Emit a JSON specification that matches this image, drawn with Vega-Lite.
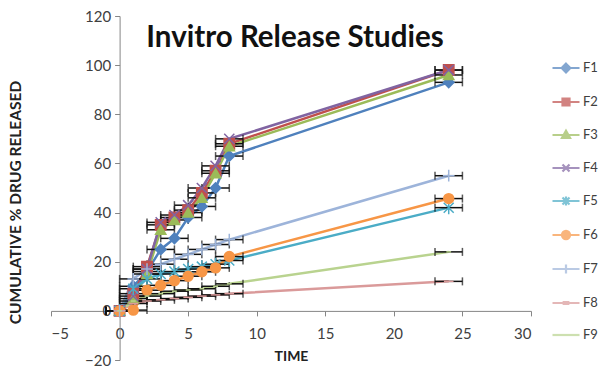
{
  "$schema": "https://vega.github.io/schema/vega-lite/v6.json",
  "width": 480,
  "height": 344,
  "autosize": "none",
  "padding": {"left": 51, "top": 16, "right": 68, "bottom": 9},
  "background": "white",
  "config": {"view": {"stroke": null}, "font": "Lato"},
  "title": {"text": "Invitro Release Studies", "fontSize": 29.5, "fontWeight": "bold", "font": "Lato", "color": "#111111", "anchor": "middle", "offset": -44, "dx": 4},
  "data": {"values": [
    {"s":"F1","t":0,"v":0,"e":1},{"s":"F1","t":1,"v":10,"e":1},{"s":"F1","t":2,"v":16,"e":1},{"s":"F1","t":3,"v":25,"e":1},{"s":"F1","t":4,"v":29.5,"e":1},{"s":"F1","t":5,"v":38,"e":1},{"s":"F1","t":6,"v":42.5,"e":1},{"s":"F1","t":7,"v":50,"e":1},{"s":"F1","t":8,"v":63,"e":1},{"s":"F1","t":24,"v":93,"e":1},
    {"s":"F2","t":0,"v":0,"e":1},{"s":"F2","t":1,"v":7,"e":1},{"s":"F2","t":2,"v":18,"e":1},{"s":"F2","t":3,"v":35,"e":1},{"s":"F2","t":4,"v":38,"e":1},{"s":"F2","t":5,"v":41,"e":1},{"s":"F2","t":6,"v":48,"e":1},{"s":"F2","t":7,"v":57,"e":1},{"s":"F2","t":8,"v":68,"e":1},{"s":"F2","t":24,"v":98,"e":1},
    {"s":"F3","t":0,"v":0,"e":1},{"s":"F3","t":1,"v":5,"e":1},{"s":"F3","t":2,"v":15,"e":1},{"s":"F3","t":3,"v":33,"e":1},{"s":"F3","t":4,"v":37,"e":1},{"s":"F3","t":5,"v":40,"e":1},{"s":"F3","t":6,"v":46,"e":1},{"s":"F3","t":7,"v":56,"e":1},{"s":"F3","t":8,"v":67,"e":1},{"s":"F3","t":24,"v":96,"e":1},
    {"s":"F4","t":0,"v":0,"e":1},{"s":"F4","t":1,"v":6,"e":1},{"s":"F4","t":2,"v":17,"e":1},{"s":"F4","t":3,"v":36,"e":1},{"s":"F4","t":4,"v":39,"e":1},{"s":"F4","t":5,"v":43,"e":1},{"s":"F4","t":6,"v":50,"e":1},{"s":"F4","t":7,"v":59,"e":1},{"s":"F4","t":8,"v":70,"e":1},{"s":"F4","t":24,"v":98,"e":1},
    {"s":"F5","t":0,"v":0,"e":1},{"s":"F5","t":1,"v":9,"e":1},{"s":"F5","t":2,"v":13,"e":1},{"s":"F5","t":3,"v":15,"e":1},{"s":"F5","t":4,"v":16,"e":1},{"s":"F5","t":5,"v":17,"e":1},{"s":"F5","t":6,"v":18,"e":1},{"s":"F5","t":7,"v":19,"e":1},{"s":"F5","t":8,"v":20.5,"e":1},{"s":"F5","t":24,"v":42,"e":1},
    {"s":"F6","t":0,"v":0,"e":1},{"s":"F6","t":1,"v":0.3,"e":1},{"s":"F6","t":2,"v":8.4,"e":1},{"s":"F6","t":3,"v":10.4,"e":1},{"s":"F6","t":4,"v":12.3,"e":1},{"s":"F6","t":5,"v":14.1,"e":1},{"s":"F6","t":6,"v":15.9,"e":1},{"s":"F6","t":7,"v":17.5,"e":1},{"s":"F6","t":8,"v":22.1,"e":1},{"s":"F6","t":24,"v":45.7,"e":1},
    {"s":"F7","t":0,"v":0,"e":1},{"s":"F7","t":1,"v":13,"e":1},{"s":"F7","t":2,"v":17,"e":1},{"s":"F7","t":3,"v":19,"e":1},{"s":"F7","t":4,"v":21,"e":1},{"s":"F7","t":5,"v":23,"e":1},{"s":"F7","t":6,"v":25,"e":1},{"s":"F7","t":7,"v":27,"e":1},{"s":"F7","t":8,"v":29,"e":1},{"s":"F7","t":24,"v":55,"e":1},
    {"s":"F8","t":0,"v":0,"e":1},{"s":"F8","t":1,"v":3,"e":1},{"s":"F8","t":2,"v":4,"e":1},{"s":"F8","t":3,"v":4.5,"e":1},{"s":"F8","t":4,"v":5,"e":1},{"s":"F8","t":5,"v":5.5,"e":1},{"s":"F8","t":6,"v":6,"e":1},{"s":"F8","t":7,"v":6.5,"e":1},{"s":"F8","t":8,"v":7,"e":1},{"s":"F8","t":24,"v":12,"e":1},
    {"s":"F9","t":0,"v":0,"e":1},{"s":"F9","t":1,"v":4,"e":1},{"s":"F9","t":2,"v":6,"e":1},{"s":"F9","t":3,"v":7,"e":1},{"s":"F9","t":4,"v":8,"e":1},{"s":"F9","t":5,"v":8.5,"e":1},{"s":"F9","t":6,"v":9,"e":1},{"s":"F9","t":7,"v":10,"e":1},{"s":"F9","t":8,"v":11,"e":1},{"s":"F9","t":24,"v":24,"e":1}
  ]},
  "encoding": {
    "x": {"field": "t", "type": "quantitative",
      "scale": {"domain": [-5, 30], "nice": false, "zero": false},
      "axis": {"title": "TIME", "offset": -49.1, "values": [-5,0,5,10,15,20,25,30], "grid": false,
        "domainColor": "#868686", "tickColor": "#868686", "tickSize": 5, "labelFontSize": 15, "labelColor": "#404040", "labelFont": "Lato",
        "titleFont": "Lato", "titleFontSize": 14, "titleFontWeight": "bold", "titleColor": "#222222", "titlePadding": 8, "labelPadding": 11}},
    "y": {"field": "v", "type": "quantitative",
      "scale": {"domain": [-20, 120], "nice": false, "zero": false},
      "axis": {"title": "CUMULATIVE % DRUG RELEASED", "offset": -68.6, "values": [-20,0,20,40,60,80,100,120], "grid": false,
        "domainColor": "#868686", "tickColor": "#868686", "tickSize": 5, "labelFontSize": 15, "labelColor": "#404040", "labelFont": "Lato",
        "titleFont": "Lato", "titleFontSize": 15.5, "titleFontWeight": "bold", "titleColor": "#222222", "titleX": -96, "titleY": 186, "labelPadding": 4}},
    "color": {"field": "s", "type": "nominal", "legend": null,
      "scale": {"domain": ["F1","F2","F3","F4","F5","F6","F7","F8","F9"],
        "range": ["#4F81BD","#C0504D","#9BBB59","#8064A2","#4BACC6","#F79646","#9DB4DA","#DA9A9A","#B9D38F"]}}
  },
  "layer": [
    {"mark": {"type": "line", "strokeWidth": 2.5},
     "encoding": {"detail": {"field": "s"}}},
    {"mark": {"type": "errorbar", "ticks": {"size": 8}, "color": "#111111", "thickness": 1.5},
     "encoding": {"xError": {"field": "e"}, "color": {"value": "#111111"}}},
    {"mark": {"type": "point", "filled": true, "strokeWidth": 1.5, "opacity": 1, "fillOpacity": 1, "strokeOpacity": 1},
     "encoding": {
       "stroke": {"field": "s", "type": "nominal", "legend": null,
         "scale": {"domain": ["F1","F2","F3","F4","F5","F6","F7","F8","F9"],
           "range": ["#4F81BD","#C0504D","#9BBB59","#8064A2","#4BACC6","#F79646","#9DB4DA","#DA9A9A","#B9D38F"]}},
       "shape": {"field": "s", "type": "nominal", "legend": null,
         "scale": {"domain": ["F1","F2","F3","F4","F5","F6","F7","F8","F9"],
           "range": ["diamond","square","triangle-up","M-1,-1L1,1M-1,1L1,-1","M-1,-1L1,1M-1,1L1,-1M0,-1.3V1.3","circle","M0,-1.2V1.2M-1.2,0H1.2","M-1,0H1","M-0.5,0H0.5"]}},
       "size": {"field": "s", "type": "nominal", "legend": null,
         "scale": {"domain": ["F1","F2","F3","F4","F5","F6","F7","F8","F9"],
           "range": [110,90,90,50,60,160,60,60,40]}}
     }},
    {"transform": [{"filter": "datum.t > 1000"}],
     "mark": {"type": "point", "filled": false, "strokeWidth": 2.2},
     "encoding": {
       "color": {"field": "s", "type": "nominal",
         "scale": {"domain": ["F1","F2","F3","F4","F5","F6","F7","F8","F9"],
           "range": ["#4F81BD","#C0504D","#9BBB59","#8064A2","#4BACC6","#F79646","#9DB4DA","#DA9A9A","#B9D38F"]},
         "legend": {"title": null, "orient": "none", "legendX": 500, "legendY": 37, "symbolSize": 729, "rowPadding": 10, "symbolStrokeWidth": 2.2,
           "labelFontSize": 13, "labelColor": "#404040", "labelFont": "Lato", "labelOffset": 2}},
       "shape": {"field": "s", "type": "nominal",
         "scale": {"domain": ["F1","F2","F3","F4","F5","F6","F7","F8","F9"],
           "range": [
             "M-1,0H1M0,-0.32L0.32,0L0,0.32L-0.32,0ZM0,-0.2L0.2,0L0,0.2L-0.2,0ZM0,-0.08L0.08,0L0,0.08L-0.08,0Z",
             "M-1,0H1M-0.26,-0.26H0.26V0.26H-0.26ZM-0.14,-0.14H0.14V0.14H-0.14ZM-0.04,-0.04H0.04V0.04H-0.04Z",
             "M-1,0H1M0,-0.32L0.3,0.22H-0.3ZM0,-0.14L0.15,0.13H-0.15ZM0,0.02L0.04,0.08H-0.04Z",
             "M-1,0H1M-0.26,-0.26L0.26,0.26M-0.26,0.26L0.26,-0.26",
             "M-1,0H1M-0.26,-0.26L0.26,0.26M-0.26,0.26L0.26,-0.26M0,-0.34V0.34",
             "M-1,0H1M0.3,0A0.3,0.3 0 1,1 -0.3,0A0.3,0.3 0 1,1 0.3,0ZM0.17,0A0.17,0.17 0 1,1 -0.17,0A0.17,0.17 0 1,1 0.17,0ZM0.05,0A0.05,0.05 0 1,1 -0.05,0A0.05,0.05 0 1,1 0.05,0Z",
             "M-1,0H1M0,-0.34V0.34",
             "M-1,0H1M-0.25,-0.06H0.25M-0.25,0.06H0.25",
             "M-1,0H1"]},
         "legend": {"title": null, "orient": "none", "legendX": 500, "legendY": 37, "symbolSize": 729, "rowPadding": 10, "symbolStrokeWidth": 2.2,
           "labelFontSize": 13, "labelColor": "#404040", "labelFont": "Lato", "labelOffset": 2}}
     }}
  ],
  "resolve": {"scale": {"shape": "independent", "size": "independent", "color": "independent", "stroke": "independent"}}
}
